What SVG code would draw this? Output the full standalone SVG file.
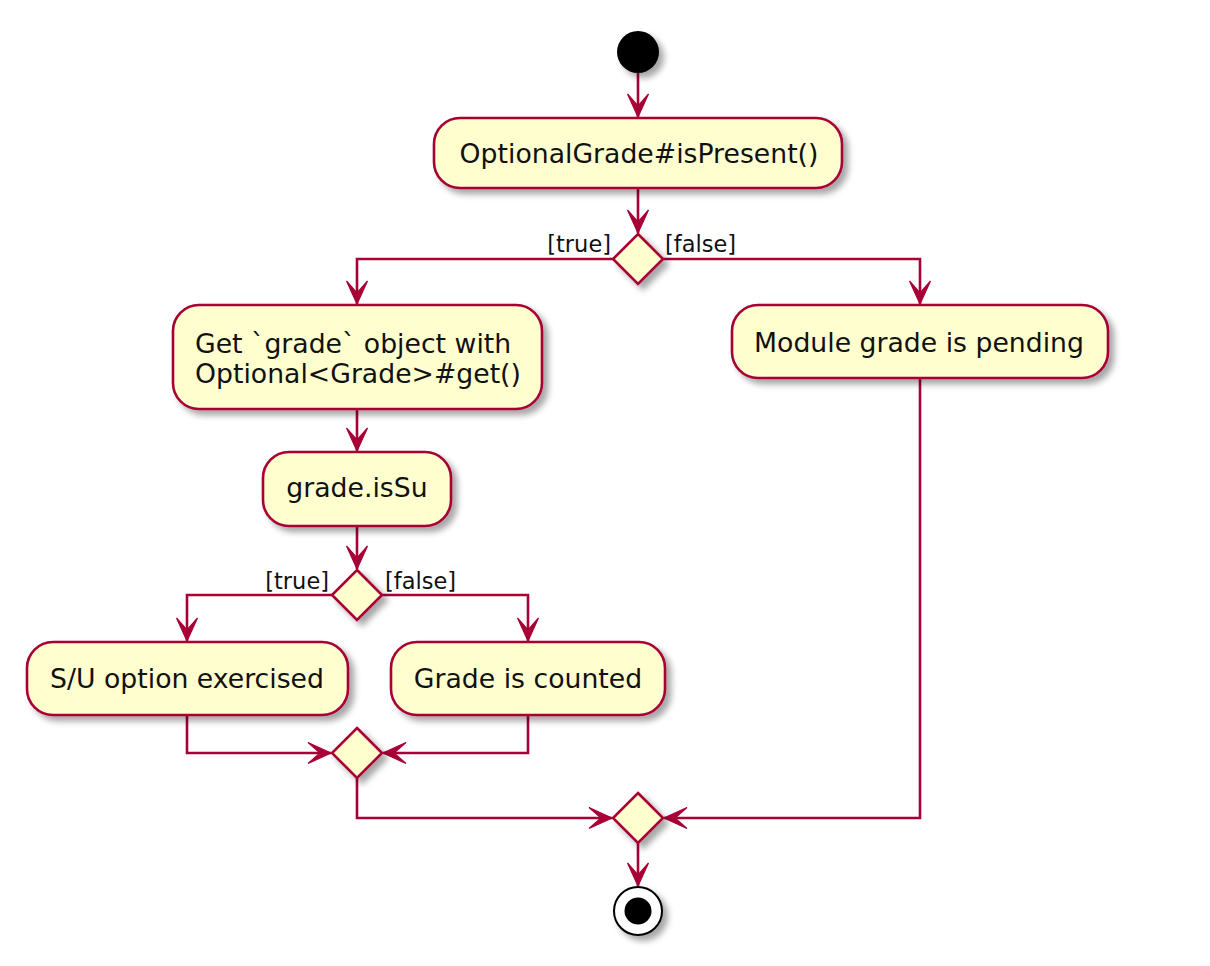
<svg xmlns="http://www.w3.org/2000/svg" xmlns:xlink="http://www.w3.org/1999/xlink" width="1210" height="966" viewBox="0 0 1210 966">
<style>
.node{fill:#FEFECE;stroke:#A80036;stroke-width:2.6;filter:url(#sh)}
.t{font-family:"DejaVu Sans","Liberation Sans",sans-serif;font-size:26.7px;fill:#111}
.lbl{font-family:"DejaVu Sans","Liberation Sans",sans-serif;font-size:22.5px;fill:#111}
.c{fill:none;stroke:#A80036;stroke-width:2.6;marker-end:url(#ah)}
</style>
<defs>
<filter id="sh" x="-30%" y="-30%" width="170%" height="170%">
<feDropShadow dx="5" dy="5" stdDeviation="3" flood-color="#000" flood-opacity="0.35"/>
</filter>
<marker id="ah" markerUnits="userSpaceOnUse" viewBox="-25 -12 26 24" refX="0" refY="0" markerWidth="26" markerHeight="24" orient="auto">
<path d="M0,0 L-23,-10.5 L-11,0 L-23,10.5 Z" fill="#A80036" stroke="#A80036" stroke-width="1.2" stroke-linejoin="miter"/>
</marker>
</defs>
<rect width="1210" height="966" fill="#fff"/>
<g id="connectors">
<path class="c" d="M638,73 V117"/>
<path class="c" d="M638,188 V233"/>
<path class="c" d="M613,259 H357 V304"/>
<path class="c" d="M663,259 H920 V304"/>
<path class="c" d="M357,409 V451"/>
<path class="c" d="M357,526 V569"/>
<path class="c" d="M332,595 H187 V641"/>
<path class="c" d="M382,595 H528 V641"/>
<path class="c" d="M187,715 V753 H331"/>
<path class="c" d="M528,715 V753 H383"/>
<path class="c" d="M357,778 V818 H612"/>
<path class="c" d="M920,378 V818 H664"/>
<path class="c" d="M638,843 V886"/>
</g>
<g id="start"><circle cx="638" cy="52" r="21" fill="#000" filter="url(#sh)"/></g>
<g id="isPresent"><rect class="node" x="434" y="118" width="408" height="70" rx="26"/><text class="t" x="639" y="163" text-anchor="middle">OptionalGrade#isPresent()</text></g>
<g id="decision1"><polygon class="node" points="638,234 663,259 638,284 613,259"/>
<text class="lbl" x="611" y="252" text-anchor="end">[true]</text>
<text class="lbl" x="665" y="252">[false]</text></g>
<g id="getGrade"><rect class="node" x="173" y="305" width="369" height="104" rx="26"/>
<text class="t" x="195" y="353">Get `grade` object with</text>
<text class="t" x="195" y="383">Optional&lt;Grade&gt;#get()</text></g>
<g id="pending"><rect class="node" x="732" y="305" width="376" height="73" rx="26"/><text class="t" x="919" y="352" text-anchor="middle">Module grade is pending</text></g>
<g id="isSu"><rect class="node" x="263" y="452" width="188" height="74" rx="26"/><text class="t" x="357" y="497" text-anchor="middle">grade.isSu</text></g>
<g id="decision2"><polygon class="node" points="357,570 382,595 357,620 332,595"/>
<text class="lbl" x="329" y="589" text-anchor="end">[true]</text>
<text class="lbl" x="385" y="589">[false]</text></g>
<g id="suExercised"><rect class="node" x="27" y="642" width="321" height="73" rx="26"/><text class="t" x="187" y="688" text-anchor="middle">S/U option exercised</text></g>
<g id="counted"><rect class="node" x="391" y="642" width="274" height="73" rx="26"/><text class="t" x="528" y="688" text-anchor="middle">Grade is counted</text></g>
<g id="merge1"><polygon class="node" points="357,728 382,753 357,778 332,753"/></g>
<g id="merge2"><polygon class="node" points="638,793 663,818 638,843 613,818"/></g>
<g id="end"><circle cx="638" cy="911" r="24" fill="#fff" stroke="#000" stroke-width="2" filter="url(#sh)"/><circle cx="638" cy="911" r="13.5" fill="#000"/></g>
</svg>
